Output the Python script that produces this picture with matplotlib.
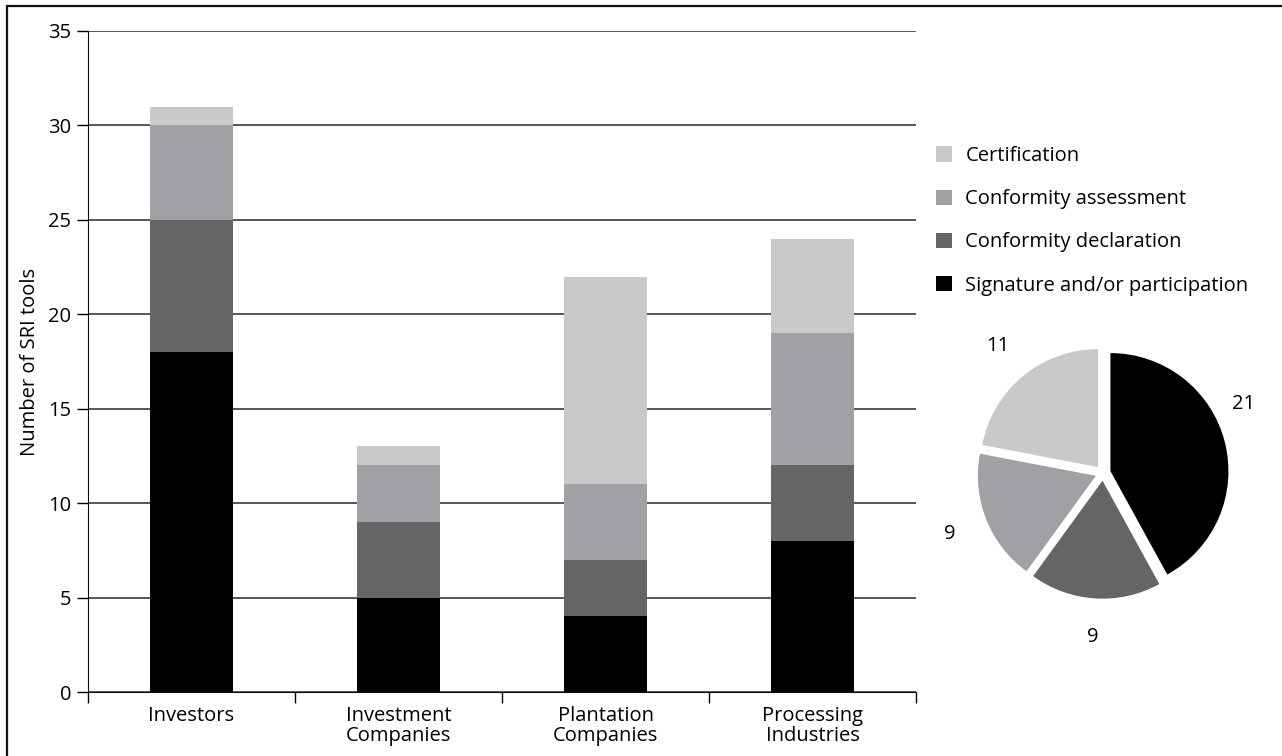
import matplotlib
matplotlib.use("Agg")
import matplotlib.pyplot as plt
from matplotlib.patches import Rectangle
import numpy as np

plt.rcParams['font.family'] = ['Open Sans', 'DejaVu Sans']

categories = ["Investors", "Investment\nCompanies", "Plantation\nCompanies", "Processing\nIndustries"]
series_names = ["Signature and/or participation", "Conformity declaration",
                "Conformity assessment", "Certification"]
signature = [18, 5, 4, 8]
declaration = [7, 4, 3, 4]
assessment = [5, 3, 4, 7]
certification = [1, 1, 11, 5]
pie_values = [21, 9, 9, 11]

colors = ["#000000", "#646567", "#a0a1a4", "#c8c9cb"]
FS = 14.5

fig = plt.figure(figsize=(12.82, 7.56), dpi=100)
W, H = 1282, 756

# outer frame (only top and left edges fall inside the image)
fig.patches.append(Rectangle((7 / W, -20 / H), 1300 / W, 770 / H, transform=fig.transFigure,
                             fill=False, edgecolor="#111111", linewidth=1.6))

ax = fig.add_axes([88 / W, (H - 692) / H, (916 - 88) / W, (692 - 31) / H])
x = np.arange(len(categories))
bottom = np.zeros(len(categories))
handles = []
for vals, name, col in zip([signature, declaration, assessment, certification], series_names, colors):
    b = ax.bar(x, vals, width=0.4, bottom=bottom, color=col, label=name, zorder=3)
    handles.append(b)
    bottom += np.array(vals)

ax.set_xlim(-0.5, len(categories) - 0.5)
ax.set_ylim(0, 35)
ax.set_yticks(range(0, 36, 5))
ax.yaxis.grid(True, color="#3a3a3a", linewidth=1.2, zorder=0)
ax.set_axisbelow(True)
ax.set_xticks(x)
ax.set_xticklabels(categories, fontsize=FS, linespacing=1.0)
ax.set_xticks(np.arange(-0.5, len(categories)), minor=True)
ax.tick_params(axis="x", which="major", length=0, pad=10)
ax.tick_params(axis="x", which="minor", length=8, width=1, direction="out")
ax.tick_params(axis="y", length=8, width=1, labelsize=FS, pad=4)
for s in ["top", "right"]:
    ax.spines[s].set_visible(False)
ax.spines["left"].set_color("#111111")
ax.spines["bottom"].set_color("#111111")
ax.set_ylabel("Number of SRI tools", fontsize=FS, labelpad=6)

fig.legend(handles[::-1], series_names[::-1], loc="upper left",
           bbox_to_anchor=(918 / W, 1 - 128 / H), frameon=False, fontsize=FS,
           handlelength=0.8, handleheight=0.8, handletextpad=0.65, labelspacing=1.15)

# pie
R = 118
cx, cy = 1103, 473
pax = fig.add_axes([(cx - 1.5 * R) / W, (H - cy - 1.5 * R) / H, 3 * R / W, 3 * R / H])
wedges, texts = pax.pie(pie_values, colors=colors, startangle=90, counterclock=False,
                        explode=[0.065] * 4, labels=[str(v) for v in pie_values],
                        labeldistance=1.33, textprops={"fontsize": FS})
for t in texts:
    t.set_ha("center")
# the "21" label sits a bit higher than the wedge centre line
ang = np.deg2rad(26)
texts[0].set_position((1.33 * np.cos(ang), 1.33 * np.sin(ang)))
pax.set_xlim(-1.5, 1.5)
pax.set_ylim(-1.5, 1.5)
pax.set_aspect("equal")

fig.savefig("out.png", dpi=100)
